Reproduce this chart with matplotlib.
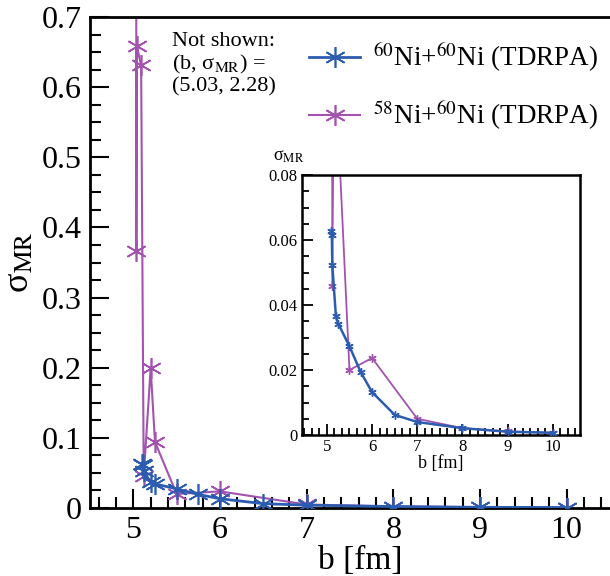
import matplotlib
matplotlib.use("Agg")
import matplotlib.pyplot as plt
from matplotlib.ticker import MultipleLocator, AutoMinorLocator, FixedFormatter, FixedLocator

# ============================================================
# Data
# ============================================================
b_60 = [5.10, 5.11, 5.12, 5.20, 5.25, 5.50, 5.75, 6.00, 6.50, 7.00, 8.00, 9.00, 10.00]
s_60 = [0.0629, 0.0616, 0.0524, 0.0365, 0.0343, 0.0273, 0.0193, 0.0132, 0.0062, 0.0040, 0.0021, 0.0010, 0.0007]

b_58 = [5.03, 5.035, 5.04, 5.09, 5.12, 5.20, 5.25, 5.50, 6.00, 7.00, 8.00, 9.00, 10.00]
s_58 = [2.28, 0.366, 0.659, 0.631, 0.046, 0.199, 0.094, 0.020, 0.0237, 0.0050, 0.0021, 0.0011, 0.0006]

label_60 = r'$^{60}$Ni+$^{60}$Ni (TDRPA)'
label_58 = r'$^{58}$Ni+$^{60}$Ni (TDRPA)'

main_yticks = [0, 0.1, 0.2, 0.3, 0.4, 0.5, 0.6, 0.7]
main_ylabels = ['0', '0.1', '0.2', '0.3', '0.4', '0.5', '0.6', '0.7']
inset_yticks = [0, 0.02, 0.04, 0.06, 0.08]
inset_ylabels = ['0', '0.02', '0.04', '0.06', '0.08']
xticks = [5, 6, 7, 8, 9, 10]

blue = '#2b5cb0'
purple = '#a352b0'
star = (6, 2, 0)

plt.rcParams['font.family'] = ['Liberation Serif', 'DejaVu Serif']
plt.rcParams['mathtext.fontset'] = 'stix'

sigma = 'σ$_{\\rm MR}$'

fig = plt.figure(figsize=(6.1, 5.76), dpi=100)

# ---------------- main axes (right edge runs off the picture) ----------------
ax = fig.add_axes([90 / 610, 68 / 576, 540 / 610, 491 / 576])
ax.plot(b_60, s_60, color=blue, lw=2.0, marker=star, ms=15, mew=1.2, label=label_60, zorder=3)
ax.plot(b_58, s_58, color=purple, lw=1.5, marker=star, ms=15, mew=1.2, label=label_58, zorder=2)
ax.set_xlim(4.5, 10.5 + 20 / 86.5)
ax.set_ylim(0, 0.7)
ax.xaxis.set_major_locator(FixedLocator(xticks))
ax.xaxis.set_minor_locator(MultipleLocator(0.2))
ax.yaxis.set_major_locator(FixedLocator(main_yticks))
ax.yaxis.set_major_formatter(FixedFormatter(main_ylabels))
ax.yaxis.set_minor_locator(MultipleLocator(0.025))
ax.tick_params(which='both', direction='in', width=1.5, labelsize=23,
               left=True, right=False, top=False, bottom=True)
ax.tick_params(which='major', length=14, pad=6)
ax.tick_params(which='minor', length=8)
for sp in ax.spines.values():
    sp.set_linewidth(2)
ax.spines['right'].set_visible(False)
ax.set_xlabel('b [fm]', fontsize=24, labelpad=0)
ax.set_ylabel(sigma, fontsize=26, labelpad=4)

ax.text(172 / 610, 1 - 64 / 576, 'Not shown:\n(b, ' + sigma + ') =\n(5.03, 2.28)',
        transform=fig.transFigure, fontsize=16, va='center', ha='left', linespacing=1.12)

ax.legend(loc='upper left', bbox_to_anchor=(309 / 610, 1 - 41 / 576), bbox_transform=fig.transFigure,
          frameon=False, fontsize=19.5, handlelength=1.9, handletextpad=0.45, labelspacing=0.9,
          borderpad=0, borderaxespad=0)

# ---------------- inset ----------------
ins = fig.add_axes([302 / 610, (576 - 435) / 576, 278 / 610, 260 / 576])
ins.plot(b_60, s_60, color=blue, lw=1.8, marker=star, ms=6, mew=1.0, zorder=3)
ins.plot(b_58, s_58, color=purple, lw=1.3, marker=star, ms=6, mew=1.0, zorder=2)
ins.set_xlim(4.45, 10.6)
ins.set_ylim(0, 0.08)
ins.xaxis.set_major_locator(FixedLocator(xticks))
ins.xaxis.set_minor_locator(AutoMinorLocator(6))
ins.yaxis.set_major_locator(FixedLocator(inset_yticks))
ins.yaxis.set_major_formatter(FixedFormatter(inset_ylabels))
ins.yaxis.set_minor_locator(MultipleLocator(0.005))
ins.tick_params(which='both', direction='in', width=1.3, labelsize=12,
                left=True, right=False, top=False, bottom=True)
ins.tick_params(which='major', length=8, pad=3)
ins.tick_params(which='minor', length=5)
for sp in ins.spines.values():
    sp.set_linewidth(1.8)
ins.set_xlabel('b [fm]', fontsize=13, labelpad=0)
ins.text(-0.105, 1.07, sigma, transform=ins.transAxes, fontsize=13, ha='left', va='center')

fig.savefig('out.png', dpi=100)
